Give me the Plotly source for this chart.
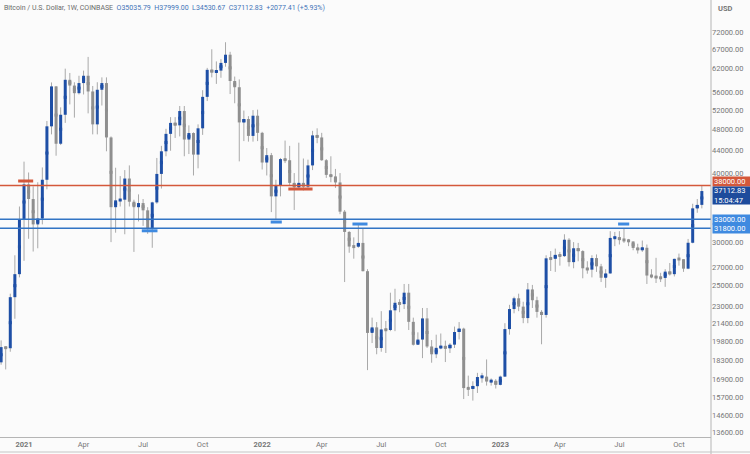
import plotly.graph_objects as go
import pandas as pd
import numpy as np

# ---------------- data (weekly BTC/USD, Coinbase) ----------------
opens = [18180, 19370, 19280, 23850, 26250, 32950, 38150, 35900, 32300, 33100,
         38900, 48600, 57400, 45200, 51000, 59000, 57600, 55800, 58200, 60000,
         56200, 49000, 56600, 58200, 46400, 34700, 35700, 35800, 39100, 35500,
         34700, 35300, 34250, 31780, 35400, 39860, 43800, 47100, 49300, 48800,
         51800, 46000, 47260, 43200, 48200, 54950, 61500, 60860, 61300, 63300,
         65500, 58700, 57200, 49400, 50100, 46700, 50800, 47300, 41800, 43100,
         36300, 37900, 42400, 42200, 38400, 37700, 38400, 37800, 41300, 46800,
         46400, 42200, 39700, 39450, 38470, 34060, 31300, 29450, 29440, 29900,
         26580, 20550, 21030, 19300, 20850, 20800, 22580, 23300, 23170, 24300,
         21520, 19560, 19990, 21830, 19420, 18800, 19310, 19440, 19270, 19570,
         20630, 20920, 16330, 16290, 16460, 17100, 17130, 16780, 16840, 16550,
         17130, 20880, 22700, 23740, 22930, 21860, 24630, 23550, 22430, 22150,
         28040, 27990, 28450, 28300, 30300, 27600, 29240, 28900, 26900, 26750,
         28070, 27120, 25860, 26330, 30530, 30590, 30290, 30250, 30080, 29280,
         29050, 29300, 26100, 26000, 25870, 25840, 26530, 26250, 27980, 27940,
         26860, 29920, 34530, 35035.79]
highs = [19920, 19420, 24200, 28400, 34800, 41950, 40100, 37850, 38500, 40950,
         49700, 58350, 57500, 52600, 61800, 60700, 58400, 60000, 61300, 64900,
         57500, 58400, 59600, 59600, 46600, 40900, 39500, 40500, 41300, 35800,
         36600, 35900, 34700, 35500, 42600, 44800, 48100, 50500, 50500, 52900,
         52900, 48800, 47400, 49000, 56500, 62000, 67000, 63700, 64300, 69000,
         66300, 59800, 59100, 51900, 50700, 52000, 52100, 47500, 44400, 43500,
         38900, 42600, 45800, 44800, 40000, 45400, 42500, 42300, 47700, 48200,
         47300, 42400, 42900, 40700, 40000, 34300, 31400, 30600, 32400, 31700,
         26800, 21900, 21500, 22500, 21600, 24300, 24700, 23650, 25200, 25200,
         21900, 20600, 22800, 22800, 19950, 20400, 20500, 19900, 19700, 21100,
         21500, 21000, 17200, 16800, 17400, 17400, 18400, 17000, 16950, 17200,
         21400, 23100, 23900, 24200, 23400, 25300, 25100, 23900, 22600, 28400,
         28900, 29200, 28800, 31000, 30500, 30000, 29900, 29000, 27700, 28400,
         28500, 27400, 26800, 31400, 31300, 31400, 31800, 30400, 30100, 29800,
         30200, 29700, 26800, 28100, 26400, 26800, 27500, 28000, 28600, 27950,
         30400, 35200, 35900, 37999.00]
lows = [18000, 17650, 19000, 21800, 25900, 27750, 30420, 28850, 29240, 32300,
        37380, 47000, 43000, 44950, 49300, 53250, 50400, 55500, 55500, 51300,
        47000, 47000, 53000, 43800, 30000, 31200, 34800, 31000, 34800, 28800,
        32700, 32100, 31050, 29300, 35200, 37500, 42900, 43900, 46300, 46600,
        42900, 43300, 39600, 40800, 46900, 54000, 59600, 58000, 59500, 62300,
        55600, 53500, 42000, 45700, 45600, 45600, 45700, 40600, 39600, 34000,
        32950, 36300, 41700, 38000, 34300, 37500, 37200, 37600, 40500, 45300,
        42100, 39200, 38500, 37600, 33700, 25400, 28700, 28000, 29300, 26550,
        17600, 19700, 18800, 19000, 18900, 20700, 20700, 22400, 22700, 20800,
        19500, 19550, 18500, 19300, 18150, 18500, 19200, 18200, 18900, 19300,
        20000, 15600, 15800, 15500, 16000, 16700, 16500, 16500, 16300, 16520,
        17100, 20400, 22300, 22500, 21400, 21400, 22800, 21900, 19600, 21900,
        26600, 26500, 27200, 28200, 27100, 26900, 27700, 25800, 26300, 25900,
        26500, 25400, 24800, 26300, 29500, 29700, 29900, 29500, 29000, 28600,
        28800, 25200, 25800, 25300, 25400, 24900, 26100, 26000, 27200, 26500,
        26800, 29850, 33900, 34530.67]
closes = [19370, 19280, 23850, 26250, 32950, 38150, 35900, 32300, 33100, 38900,
          48600, 57400, 45200, 51000, 59000, 57600, 55800, 58200, 60000, 56200,
          49000, 56600, 58200, 46400, 34700, 35700, 35800, 39100, 35500, 34700,
          35300, 34250, 31780, 35400, 39860, 43800, 47100, 49300, 48800, 51800,
          46000, 47260, 43200, 48200, 54950, 61500, 60860, 61300, 63300, 65500,
          58700, 57200, 49400, 50100, 46700, 50800, 47300, 41800, 43100, 36300,
          37900, 42400, 42200, 38400, 37700, 38400, 37800, 41300, 46800, 46400,
          42200, 39700, 39450, 38470, 34060, 31300, 29450, 29440, 29900, 26580,
          20550, 21030, 19300, 20850, 20800, 22580, 23300, 23170, 24300, 21520,
          19560, 19990, 21830, 19420, 18800, 19310, 19440, 19270, 19570, 20630,
          20920, 16330, 16290, 16460, 17100, 17130, 16780, 16840, 16550, 17130,
          20880, 22700, 23740, 22930, 21860, 24630, 23550, 22430, 22150, 28040,
          27990, 28450, 28300, 30300, 27600, 29240, 28900, 26900, 26750, 28070,
          27120, 25860, 26330, 30530, 30590, 30290, 30250, 30080, 29280, 29050,
          29300, 26100, 26000, 25870, 25840, 26530, 26250, 27980, 27940, 26860,
          29920, 34530, 35035.42, 37112.83]
weeks = pd.date_range("2020-11-30", periods=len(closes), freq="7D")

# horizontal levels
red_level = 38000
blue_levels = [33000, 31800]
# short swing markers: (start, end, price)
red_marks = [("2020-12-26", "2021-01-18", 38700), ("2022-02-12", "2022-03-21", 37430)]
blue_marks = [("2021-07-03", "2021-07-27", 31450), ("2022-01-16", "2022-02-02", 32620),
              ("2022-05-21", "2022-06-13", 32350), ("2023-07-01", "2023-07-18", 32350)]

y_ticks = [72000, 67000, 62000, 56000, 52000, 48000, 44000, 40000, 30000, 27000,
           25000, 23000, 21400, 19800, 18300, 16900, 15700, 14600, 13600]
x_tickvals = ["2021-01-04", "2021-04-05", "2021-07-05", "2021-10-04",
              "2022-01-03", "2022-04-04", "2022-07-04", "2022-10-03",
              "2023-01-02", "2023-04-03", "2023-07-03", "2023-10-02"]
x_ticktext = ["<b>2021</b>", "Apr", "Jul", "Oct", "<b>2022</b>", "Apr", "Jul", "Oct",
              "<b>2023</b>", "Apr", "Jul", "Oct"]

# ---------------- styles ----------------
BLUE = "#1e4fa6"
GRAY = "#8f8f8f"
WICK = "#a9a9a9"
RED = "#d4583b"
LBLUE = "#3274c4"
BOXBLUE = "#3f8ae0"
FONT = "Roboto"

X0, X1 = "2020-11-28 07:00", "2023-11-20"
Y0, Y1 = 13319, 82270

fig = go.Figure()

# wicks
wx, wy = [], []
for d, h, l in zip(weeks, highs, lows):
    wx += [d, d, None]
    wy += [l, h, None]
fig.add_trace(go.Scatter(x=wx, y=wy, mode="lines", line=dict(color=WICK, width=1),
                         hoverinfo="skip", showlegend=False))

# bodies
for up, col in [(True, BLUE), (False, GRAY)]:
    bx, by, mx, my = [], [], [], []
    for d, o, c in zip(weeks, opens, closes):
        if (c >= o) == up:
            bx += [d, d, None]
            by += [o, c, None]
            mx.append(d)
            my.append(np.sqrt(o * c))
    fig.add_trace(go.Scatter(x=bx, y=by, mode="lines", line=dict(color=col, width=3),
                             hoverinfo="skip", showlegend=False))
    fig.add_trace(go.Scatter(x=mx, y=my, mode="markers",
                             marker=dict(symbol="square", size=3, color=col, line=dict(width=0)),
                             hoverinfo="skip", showlegend=False))

# level lines
fig.add_trace(go.Scatter(x=[X0, X1], y=[red_level, red_level], mode="lines",
                         line=dict(color=RED, width=1.5), hoverinfo="skip", showlegend=False))
for lv in blue_levels:
    fig.add_trace(go.Scatter(x=[X0, X1], y=[lv, lv], mode="lines",
                             line=dict(color=LBLUE, width=1.5), hoverinfo="skip", showlegend=False))
for s, e, p in red_marks:
    fig.add_trace(go.Scatter(x=[s, e], y=[p, p], mode="lines",
                             line=dict(color=RED, width=3), hoverinfo="skip", showlegend=False))
for s, e, p in blue_marks:
    fig.add_trace(go.Scatter(x=[s, e], y=[p, p], mode="lines",
                             line=dict(color=BOXBLUE, width=3), hoverinfo="skip", showlegend=False))

# price labels on the axis
def price_label(val, text, bg, yshift=0, height=7):
    fig.add_annotation(xref="paper", x=1, xanchor="left", xshift=1,
                       yref="y", y=np.log10(val), yanchor="middle", yshift=yshift,
                       text=text, showarrow=False, bgcolor=bg, width=36, height=height,
                       borderpad=1, align="left", valign="middle",
                       font=dict(family=FONT, size=7.5, color="white"))

price_label(red_level, "38000.00", RED, yshift=4)
price_label(closes[-1], "37112.83<br>15:04:47", "#1d4b9c", yshift=-4, height=15)
for lv in blue_levels:
    price_label(lv, f"{lv:.2f}", BOXBLUE)

# header
o, h, l, c = opens[-1], highs[-1], lows[-1], closes[-1]
chg = c - closes[-2]
pct = chg / closes[-2] * 100
nb = "\u00a0"
header = (f"<span style='color:#6a6a6a'>Bitcoin / U.S. Dollar, 1W, COINBASE</span>{nb}{nb}"
          f"<span style='color:#4274b8'>O{o:.2f}{nb}{nb}H{h:.2f}{nb}{nb}L{l:.2f}{nb}{nb}"
          f"C{c:.2f}{nb}{nb}+{chg:.2f}{nb}(+{pct:.2f}%)</span>")
fig.add_annotation(xref="paper", x=0, xanchor="left", xshift=2, yref="paper", y=1,
                   yanchor="top", yshift=-2, text=header, showarrow=False,
                   font=dict(family=FONT, size=7, color="#666"))
fig.add_annotation(xref="paper", x=1, xanchor="left", xshift=5, yref="paper", y=1,
                   yanchor="top", yshift=-2, text="<b>USD</b>", showarrow=False,
                   font=dict(family=FONT, size=7.5, color="#777"))

# frame lines
fig.add_shape(type="line", xref="paper", yref="paper", x0=1, x1=1, y0=-17 / 437, y1=1,
              line=dict(color="#b5b5b5", width=1))
fig.add_shape(type="line", xref="paper", yref="paper", x0=0, x1=39 / 711 + 1,
              y0=-15 / 437, y1=-15 / 437, line=dict(color="#c5c5c5", width=1))

fig.update_layout(
    width=750, height=454,
    margin=dict(l=0, r=39, t=0, b=17),
    paper_bgcolor="#fbfbfb", plot_bgcolor="#fbfbfb",
    showlegend=False,
    xaxis=dict(type="date", range=[X0, X1], showgrid=False, zeroline=False,
               showline=True, linecolor="#b5b5b5", linewidth=1,
               tickvals=x_tickvals, ticktext=x_ticktext, ticks="",
               tickfont=dict(family=FONT, size=7.5, color="#777")),
    yaxis=dict(type="log", range=[np.log10(Y0), np.log10(Y1)], side="right",
               showgrid=False, zeroline=False, showline=False,
               tickvals=y_ticks, ticktext=[f"{v:.2f}" for v in y_ticks], ticks="",
               tickfont=dict(family=FONT, size=7.5, color="#777")),
)

fig.write_html("out.html")
